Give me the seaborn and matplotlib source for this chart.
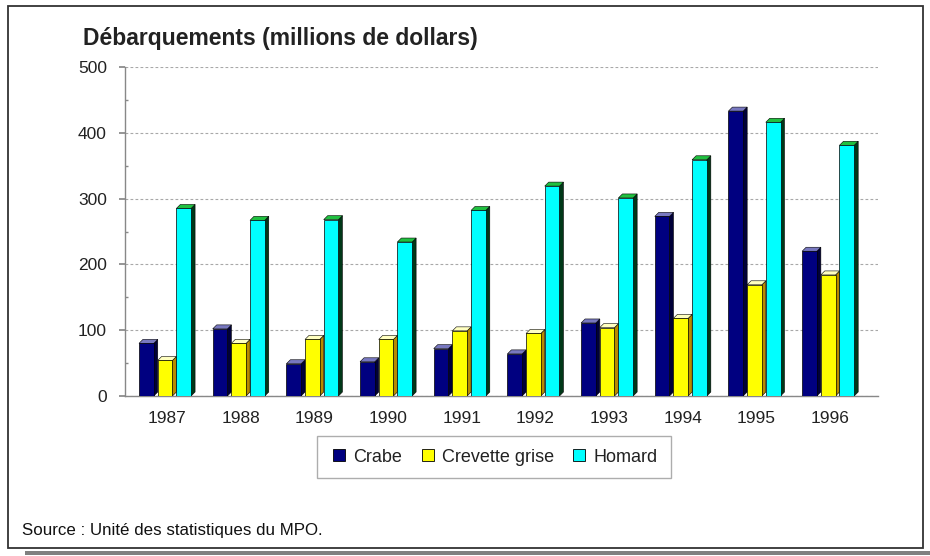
import matplotlib
matplotlib.use("Agg")
import matplotlib.pyplot as plt
from matplotlib.patches import Polygon, Rectangle
from matplotlib.lines import Line2D
import seaborn as sns
import pandas as pd
from matplotlib.ticker import MultipleLocator

years = ["1987", "1988", "1989", "1990", "1991", "1992", "1993", "1994", "1995", "1996"]
crabe = [80, 102, 49, 52, 72, 64, 111, 273, 433, 220]
crevette = [54, 80, 86, 86, 99, 95, 104, 118, 169, 184]
homard = [285, 267, 268, 234, 282, 319, 301, 359, 416, 381]
series = ["Crabe", "Crevette grise", "Homard"]
front_colors = ["#000080", "#FFFF00", "#00FFFF"]
side_colors = ["#000038", "#B88A00", "#003818"]
top_colors = ["#7878C0", "#FFFFC0", "#20C040"]

df = pd.DataFrame({
    "Année": years * 3,
    "Espèce": [series[0]] * len(years) + [series[1]] * len(years) + [series[2]] * len(years),
    "Valeur": crabe + crevette + homard,
})

sns.set_theme(style="white")
plt.rcParams["font.family"] = ["Liberation Sans", "DejaVu Sans"]

fig = plt.figure(figsize=(9.3, 5.56), dpi=100)
ax = fig.add_axes([125 / 930, 1 - 396 / 556, (878 - 125) / 930, (396 - 67) / 556])

sns.barplot(data=df, x="Année", y="Valeur", hue="Espèce", hue_order=series,
            palette=front_colors, width=0.76, edgecolor="black", linewidth=0.5,
            saturation=1, legend=False, ax=ax, zorder=3)

ax.set_xlim(-0.57, 9.65)
ax.set_ylim(0, 500)

# pseudo-3D faces derived from each bar
px_x = (878 - 125) / (9.65 + 0.57)   # pixels per x unit
px_y = (396 - 67) / 500.0            # pixels per y unit
dx = 4.0 / px_x
dy = 4.0 / px_y
for i, cont in enumerate(ax.containers):
    for rect in cont:
        x0 = rect.get_x()
        w = rect.get_width()
        h = rect.get_height()
        fw = w * 0.79
        rect.set_width(fw)
        x1 = x0 + fw
        side = Polygon([(x1, 0), (x1, h), (x1 + dx, h + dy), (x1 + dx, min(dy, h + dy))],
                       closed=True, facecolor=side_colors[i], edgecolor="black",
                       linewidth=0.4, zorder=2.9)
        top = Polygon([(x0, h), (x1, h), (x1 + dx, h + dy), (x0 + dx, h + dy)],
                      closed=True, facecolor=top_colors[i], edgecolor="black",
                      linewidth=0.4, zorder=2.9)
        ax.add_patch(side)
        ax.add_patch(top)

ax.yaxis.set_major_locator(MultipleLocator(100))
ax.yaxis.set_minor_locator(MultipleLocator(50))
ax.grid(axis="y", which="major", linestyle=(0, (2.5, 2)), color="#A8A8A8", linewidth=0.8, zorder=0)
ax.set_axisbelow(True)
for s in ["top", "right"]:
    ax.spines[s].set_visible(False)
for s in ["left", "bottom"]:
    ax.spines[s].set_color("#888888")
    ax.spines[s].set_linewidth(1.0)
ax.tick_params(axis="y", which="major", left=True, length=4, color="#888888", labelsize=12.5, pad=9)
ax.tick_params(axis="y", which="minor", left=True, length=2, direction="in", color="#888888")
ax.tick_params(axis="x", bottom=False, labelsize=12.5, pad=5)
for lab in ax.get_xticklabels() + ax.get_yticklabels():
    lab.set_color("#222222")
ax.set_xlabel("")
ax.set_ylabel("")

fig.text(83 / 930, 1 - 38 / 556, "Débarquements (millions de dollars)", fontsize=16.5,
         fontweight="bold", color="#222222", va="center", ha="left")
fig.text(22 / 930, 1 - 531 / 556, "Source : Unité des statistiques du MPO.", fontsize=12.2,
         color="#111111", va="center", ha="left")

handles = [Line2D([0], [0], marker="s", linestyle="none", markersize=9,
                  markerfacecolor=c, markeredgecolor="black", markeredgewidth=0.6)
           for c in front_colors]
leg = fig.legend(handles, series, loc="center", bbox_to_anchor=(494 / 930, 1 - 457 / 556),
                 ncol=3, frameon=True, fancybox=False, fontsize=13, handletextpad=0.3,
                 columnspacing=0.9, borderpad=0.7, handlelength=1.0)
leg.get_frame().set_edgecolor("#999999")
leg.get_frame().set_linewidth(1.0)
for t in leg.get_texts():
    t.set_color("#222222")

# outer frame and shadow line
fig.patches.append(Rectangle((8 / 930, 1 - 548 / 556), 915 / 930, 542 / 556,
                             transform=fig.transFigure, fill=False,
                             edgecolor="#333333", linewidth=1.3))
fig.patches.append(Rectangle((25 / 930, 1 - 555 / 556), 905 / 930, 4 / 556,
                             transform=fig.transFigure, facecolor="#808080",
                             edgecolor="none"))

fig.savefig("out.png", dpi=100)
